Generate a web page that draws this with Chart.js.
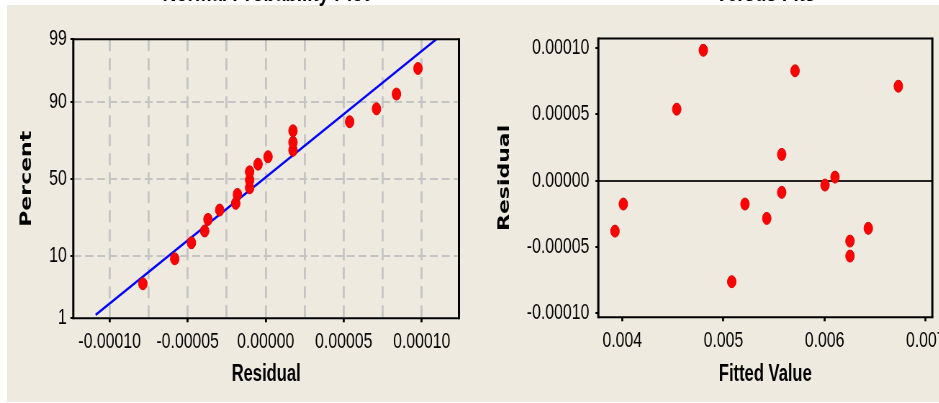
<!DOCTYPE html>
<html>
<head>
<meta charset="utf-8">
<script src="https://cdn.jsdelivr.net/npm/chart.js@4.4.1/dist/chart.umd.min.js"></script>
<style>
  html, body { margin: 0; padding: 0; background: #fff; }
  body { width: 939px; height: 403px; position: relative; overflow: hidden; }
  #bg { position: absolute; left: 7px; top: 5px; width: 932px; height: 397px; background: #EEEAE0; }
  .panel { position: absolute; top: 0; height: 403px; overflow: hidden; }
  /* the source picture is squeezed sideways, so draw wide and squeeze */
  .panel canvas { position: absolute; left: 0; top: -30px; transform: scaleX(0.72); transform-origin: 0 0; }
</style>
</head>
<body>
<div id="bg"></div>
<div class="panel" style="left:0;width:470px"><canvas id="prob" width="653" height="433"></canvas></div>
<div class="panel" style="left:470px;width:469px"><canvas id="fits" width="700" height="433"></canvas></div>
<script>
// normal probability plot
const probResidual = [-0.0000787, -0.0000583, -0.0000476, -0.0000391, -0.0000370, -0.0000295, -0.0000192, -0.0000181,
  -0.0000103, -0.0000103, -0.0000103, -0.0000049, 0.0000015, 0.0000175, 0.0000175, 0.0000175,
  0.0000538, 0.0000710, 0.0000838, 0.0000976]
const probPercent = [4.0, 9.1, 14.3, 19.2, 24.9, 30.1, 34.1, 39.7, 44.0, 49.1, 54.6, 59.6, 64.3, 68.3, 72.8, 78.8,
  82.9, 87.8, 92.1, 96.7]
const lineResidual = [-0.000109, 0.0001094]
const linePercent = [1.16, 99]
const probYPercent = [1, 10, 50, 90, 99]
const probYLabels = ['1', '10', '50', '90', '99']
const probXTicks = [-0.0001, -0.000075, -0.00005, -0.000025, 0, 0.000025, 0.00005, 0.000075, 0.0001]
const probXLabels = [-0.0001, -0.00005, 0, 0.00005, 0.0001]

// versus fits
const fitsFitted = [0.003928, 0.004010, 0.004538, 0.004801, 0.005082, 0.005213, 0.005428, 0.005576, 0.005576,
  0.005708, 0.006004, 0.006103, 0.006251, 0.006251, 0.006432, 0.006729]
const fitsResidual = [-0.0000380, -0.0000176, 0.0000539, 0.0000983, -0.0000761, -0.0000176, -0.0000284, 0.0000198,
  -0.0000088, 0.0000828, -0.0000033, 0.0000027, -0.0000455, -0.0000568, -0.0000359, 0.0000712]
const fitsXTicks = [0.004, 0.005, 0.006, 0.007]
const fitsYTicks = [-0.0001, -0.00005, 0, 0.00005, 0.0001]

const clear = 'rgba(0,0,0,0)'
const gridGray = '#C4C4C4'
const tickFont = { family: 'Liberation Sans', size: 22 }
const xTitleFont = { family: 'Liberation Sans', size: 23, weight: 'bold' }
const yTitleFont = { family: 'DejaVu Sans', size: 22, weight: 'bold' }
const plotTitleFont = { family: 'Liberation Sans', size: 26, weight: 'bold' }

// inverse normal cdf (Acklam)
function probit(p) {
  const a = [-3.969683028665376e+01, 2.209460984245205e+02, -2.759285104469687e+02, 1.383577518672690e+02, -3.066479806614716e+01, 2.506628277459239e+00]
  const b = [-5.447609879822406e+01, 1.615858368580409e+02, -1.556989798598866e+02, 6.680131188771972e+01, -1.328068155196881e+01]
  const c = [-7.784894002430293e-03, -3.223964580411365e-01, -2.400758277161838e+00, -2.549732539343734e+00, 4.374664141464968e+00, 2.938163982698783e+00]
  const d = [7.784695709041462e-03, 3.224671290700398e-01, 2.445134137142996e+00, 3.754408661907416e+00]
  const lo = 0.02425
  let q, r
  if (p < lo) {
    q = Math.sqrt(-2 * Math.log(p))
    return (((((c[0]*q+c[1])*q+c[2])*q+c[3])*q+c[4])*q+c[5]) / ((((d[0]*q+d[1])*q+d[2])*q+d[3])*q+1)
  }
  if (p > 1 - lo) {
    q = Math.sqrt(-2 * Math.log(1 - p))
    return -(((((c[0]*q+c[1])*q+c[2])*q+c[3])*q+c[4])*q+c[5]) / ((((d[0]*q+d[1])*q+d[2])*q+d[3])*q+1)
  }
  q = p - 0.5
  r = q * q
  return (((((a[0]*r+a[1])*r+a[2])*r+a[3])*r+a[4])*r+a[5])*q / (((((b[0]*r+b[1])*r+b[2])*r+b[3])*r+b[4])*r+1)
}

const isLabel = (list, v) => list.some(l => Math.abs(l - v) < 1e-9)

const frame = {
  id: 'frame',
  afterDatasetsDraw(chart) {
    const { ctx, chartArea: a } = chart
    ctx.save()
    ctx.setLineDash([])
    ctx.strokeStyle = '#000'
    ctx.lineWidth = 2
    ctx.beginPath()
    ctx.moveTo(a.left, a.top); ctx.lineTo(a.right, a.top)
    ctx.moveTo(a.left, a.bottom); ctx.lineTo(a.right, a.bottom)
    ctx.stroke()
    ctx.lineWidth = 3
    ctx.beginPath()
    ctx.moveTo(a.left, a.top - 1); ctx.lineTo(a.left, a.bottom + 1)
    ctx.moveTo(a.right, a.top - 1); ctx.lineTo(a.right, a.bottom + 1)
    ctx.stroke()
    ctx.restore()
  }
}

new Chart(document.getElementById('prob'), {
  type: 'scatter',
  data: {
    datasets: [
      {
        data: probResidual.map((r, i) => ({ x: r, y: probit(probPercent[i] / 100) })),
        pointRadius: 6, backgroundColor: '#FF0000', borderColor: '#E00000', borderWidth: 1
      },
      {
        type: 'line',
        data: lineResidual.map((r, i) => ({ x: r, y: probit(linePercent[i] / 100) })),
        borderColor: '#0000FF', borderWidth: 2.5, pointRadius: 0, fill: false
      }
    ]
  },
  options: {
    responsive: false, animation: false, devicePixelRatio: 1,
    layout: { padding: { left: 10, right: 15.5, top: 0, bottom: 14.5 } },
    plugins: {
      legend: { display: false }, tooltip: { enabled: false },
      title: { display: true, fullSize: false, text: 'Normal Probability Plot', color: '#000', font: plotTitleFont, padding: { top: 8, bottom: 30 } }
    },
    scales: {
      x: {
        type: 'linear', min: -0.0001233, max: 0.0001239,
        afterBuildTicks: s => { s.ticks = probXTicks.map(v => ({ value: v })) },
        afterFit: s => { s.height = 70.2 },
        ticks: {
          autoSkip: false, minRotation: 0, maxRotation: 0, padding: 6, color: '#000', font: tickFont,
          callback: v => isLabel(probXLabels, v) ? v.toFixed(5) : ''
        },
        grid: {
          color: gridGray, lineWidth: 2.8, tickLength: 4, tickWidth: 2.8,
          tickColor: c => isLabel(probXLabels, c.tick.value) ? '#000' : clear
        },
        border: { display: false, dash: [12, 7] },
        title: { display: true, text: 'Residual', color: '#000', font: xTitleFont, padding: { top: 0, bottom: 0 } }
      },
      y: {
        type: 'linear', min: probit(0.01), max: probit(0.99),
        afterBuildTicks: s => { s.ticks = probYPercent.map(p => ({ value: probit(p / 100) })) },
        afterFit: s => { s.width = 91.8 },
        ticks: { padding: 5, color: '#000', font: tickFont, callback: (v, i) => probYLabels[i] },
        grid: {
          color: c => (c.index === 0 || c.index === probYPercent.length - 1) ? clear : gridGray,
          lineWidth: 2, tickLength: 4, tickWidth: 2, tickColor: '#000'
        },
        border: { display: false, dash: [11, 5.5] },
        title: { display: true, text: 'Percent', color: '#000', font: yTitleFont, padding: { top: 14, bottom: 0 } }
      }
    }
  },
  plugins: [frame]
})

new Chart(document.getElementById('fits'), {
  type: 'scatter',
  data: {
    datasets: [{
      data: fitsFitted.map((f, i) => ({ x: f, y: fitsResidual[i] })),
      pointRadius: 6, backgroundColor: '#FF0000', borderColor: '#E00000', borderWidth: 1
    }]
  },
  options: {
    responsive: false, animation: false, devicePixelRatio: 1,
    layout: { padding: { left: 10, right: 57.9, top: 0, bottom: 14.5 } },
    plugins: {
      legend: { display: false }, tooltip: { enabled: false },
      title: { display: true, fullSize: false, text: 'Versus Fits', color: '#000', font: plotTitleFont, padding: { top: 8, bottom: 29.3 } }
    },
    scales: {
      x: {
        type: 'linear', min: 0.003763, max: 0.007065,
        afterBuildTicks: s => { s.ticks = fitsXTicks.map(v => ({ value: v })) },
        afterFit: s => { s.height = 71.2 },
        ticks: { autoSkip: false, minRotation: 0, maxRotation: 0, padding: 6, color: '#000', font: tickFont, callback: v => v.toFixed(3) },
        grid: { drawOnChartArea: false, tickLength: 4, tickWidth: 2.8, tickColor: '#000' },
        border: { display: false },
        title: { display: true, text: 'Fitted Value', color: '#000', font: xTitleFont, padding: { top: 0, bottom: 0 } }
      },
      y: {
        type: 'linear', min: -0.00010294, max: 0.00010715,
        afterBuildTicks: s => { s.ticks = fitsYTicks.map(v => ({ value: v })) },
        afterFit: s => { s.width = 168.2 },
        ticks: { padding: 8.5, color: '#000', font: tickFont, callback: v => v.toFixed(5) },
        grid: {
          color: c => c.tick && c.tick.value === 0 ? '#222' : clear,
          lineWidth: 2, tickLength: 4, tickWidth: 2, tickColor: '#000'
        },
        border: { display: false },
        title: { display: true, text: 'Residual', color: '#000', font: yTitleFont, padding: { top: 24.7, bottom: 0 } }
      }
    }
  },
  plugins: [frame]
})
</script>
</body>
</html>
